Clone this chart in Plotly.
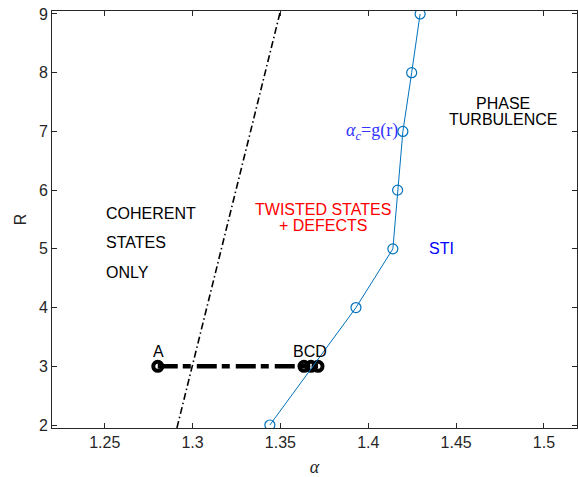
import plotly.graph_objects as go

# ---- data ----
R_curve = [2, 4, 5, 6, 7, 8, 9]
alpha_curve = [1.344, 1.393, 1.414, 1.4167, 1.4197, 1.4247, 1.4295]

# dash-dot boundary line (coherent states limit)
R_line = [1.95, 9.05]
alpha_line = [1.2911, 1.3500]

# horizontal path A -> D at R = 3
path_alpha = [1.2802, 1.3634, 1.3674, 1.3714]
path_R = [3, 3, 3, 3]

# text labels
point_labels = ["A", "BCD"]
point_label_alpha = [1.2806, 1.3669]
point_label_R = [3.25, 3.25]

xticks = [1.25, 1.3, 1.35, 1.4, 1.45, 1.5]
xtick_text = ["1.25", "1.3", "1.35", "1.4", "1.45", "1.5"]
yticks = [2, 3, 4, 5, 6, 7, 8, 9]

AX = "#262626"
FONT = "Liberation Sans, Arial, Helvetica, sans-serif"
SERIF = "Liberation Serif, DejaVu Serif, serif"
FS = 16

fig = go.Figure()

fig.add_trace(go.Scatter(
    x=alpha_line, y=R_line, mode="lines",
    line=dict(color="black", width=1.6, dash="7px,3px,1.5px,3px"),
    showlegend=False, hoverinfo="skip"))

fig.add_trace(go.Scatter(
    x=path_alpha, y=path_R, mode="lines+markers",
    line=dict(color="black", width=4.5, dash="20px,5px,8px,6px"),
    marker=dict(symbol="circle-open", size=9, color="black",
                line=dict(color="black", width=4)),
    showlegend=False, hoverinfo="skip"))

fig.add_trace(go.Scatter(
    x=alpha_curve, y=R_curve, mode="lines+markers",
    line=dict(color="#0072BD", width=1),
    marker=dict(symbol="circle-open", size=10, color="#0072BD",
                line=dict(color="#0072BD", width=1.2)),
    showlegend=False, hoverinfo="skip"))

for t, xa, ya in zip(point_labels, point_label_alpha, point_label_R):
    fig.add_annotation(x=xa, y=ya, text=t, showarrow=False,
                       font=dict(family=FONT, size=FS, color="black"),
                       xanchor="center", yanchor="middle")

# region labels
for t, ya in zip(["COHERENT", "STATES", "ONLY"], [5.61, 5.10, 4.60]):
    fig.add_annotation(x=1.2495, y=ya, text=t, showarrow=False,
                       font=dict(family=FONT, size=FS, color="black"),
                       xanchor="left", yanchor="middle")

for t, ya in zip(["PHASE", "TURBULENCE"], [7.48, 7.21]):
    fig.add_annotation(x=1.4769, y=ya, text=t, showarrow=False,
                       font=dict(family=FONT, size=FS, color="black"),
                       xanchor="center", yanchor="middle")

for t, ya in zip(["TWISTED STATES", "+ DEFECTS"], [5.675, 5.40]):
    fig.add_annotation(x=1.3743, y=ya, text=t, showarrow=False,
                       font=dict(family=FONT, size=FS, color="#FF0000"),
                       xanchor="center", yanchor="middle")

fig.add_annotation(x=1.4417, y=5.0, text="STI", showarrow=False,
                   font=dict(family=FONT, size=FS, color="#0000FF"),
                   xanchor="center", yanchor="middle")

fig.add_annotation(x=1.4178, y=7.0, text="<i>α</i><sub><i>c</i></sub>=g(r)", showarrow=False,
                   font=dict(family=SERIF, size=18, color="#3333FF"),
                   xanchor="right", yanchor="middle")

fig.update_xaxes(
    range=[1.22, 1.5188], tickvals=xticks, ticktext=xtick_text,
    ticks="inside", ticklen=5, tickcolor=AX, tickwidth=1,
    showline=True, linecolor=AX, linewidth=1, mirror="ticks",
    showgrid=False, zeroline=False,
    tickfont=dict(family=FONT, size=FS, color=AX),
    title=dict(text="<i>α</i>", font=dict(family=SERIF, size=18, color=AX), standoff=10))

fig.update_yaxes(
    range=[1.949, 9.051], tickvals=yticks,
    ticks="inside", ticklen=5, tickcolor=AX, tickwidth=1,
    showline=True, linecolor=AX, linewidth=1, mirror="ticks",
    showgrid=False, zeroline=False,
    tickfont=dict(family=FONT, size=FS, color=AX),
    title=dict(text="R", font=dict(family=FONT, size=FS, color=AX), standoff=8))

fig.update_layout(
    width=578, height=477,
    margin=dict(l=52, r=1, t=11, b=49),
    paper_bgcolor="white", plot_bgcolor="white",
    showlegend=False)

fig.write_html("out.html")
